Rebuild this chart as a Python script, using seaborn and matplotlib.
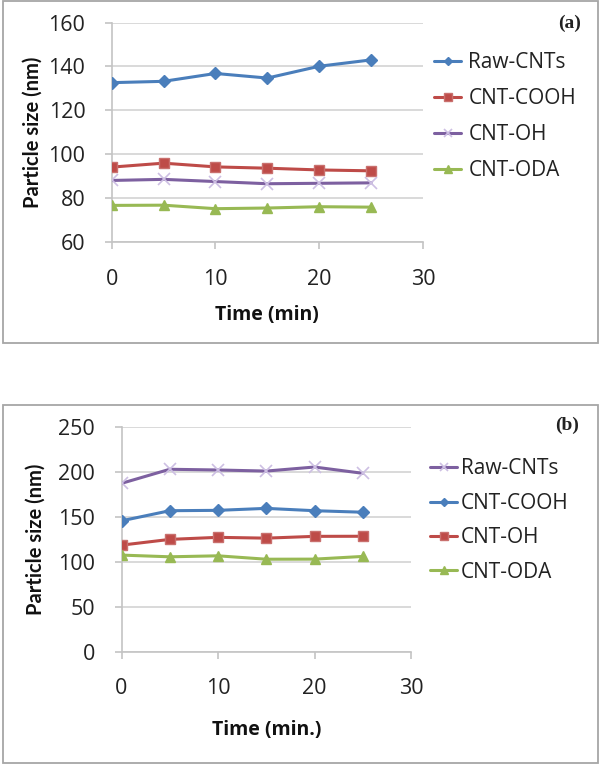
import matplotlib
matplotlib.use("Agg")
import matplotlib.pyplot as plt
import seaborn as sns
import pandas as pd
from matplotlib.patches import Rectangle

# ---------------- data ----------------
time_min = [0, 5, 10, 15, 20, 25]

a_raw = [132.6, 133.2, 136.8, 134.7, 140.1, 143.0]
a_cooh = [94.0, 95.8, 94.1, 93.5, 92.7, 92.3]
a_oh = [87.9, 88.4, 87.4, 86.4, 86.6, 86.8]
a_oda = [76.5, 76.6, 75.0, 75.3, 75.9, 75.7]

b_raw = [187.5, 203.2, 202.4, 201.2, 205.7, 198.7]
b_cooh = [145.7, 157.0, 157.4, 159.6, 157.0, 155.3]
b_oh = [118.6, 125.0, 127.3, 126.4, 128.4, 128.5]
b_oda = [107.5, 105.6, 106.7, 102.9, 103.0, 106.0]

labels = ["Raw-CNTs", "CNT-COOH", "CNT-OH", "CNT-ODA"]
a_yticks = [60, 80, 100, 120, 140, 160]
b_yticks = [0, 50, 100, 150, 200, 250]
xticks = [0, 10, 20, 30]

# ---------------- style ----------------
sns.set_theme(style="white")
plt.rcParams["font.family"] = ["Open Sans", "DejaVu Sans"]

BLUE = "#4a7ebb"
RED = "#be4b48"
PURPLE = "#7d60a0"
GREEN = "#98b954"
GRID = "#d9d9d9"
AXC = "#c4c4c4"
TXT = "#222222"

styles = {
    "blue": dict(color=BLUE, marker="D", ms=6, mfc=BLUE, mec=BLUE, mew=1),
    "red": dict(color=RED, marker="s", ms=7.5, mfc=RED, mec="#c9706e", mew=1),
    "purple": dict(color=PURPLE, marker="x", ms=8, mfc="#cdbfe3", mec="#cdbfe3", mew=1.2),
    "green": dict(color=GREEN, marker="^", ms=7.5, mfc=GREEN, mec=GREEN, mew=1),
}

fig = plt.figure(figsize=(6, 7.65), dpi=100)
W, H = 600.0, 765.0

def fx(px):
    return px / W

def fy(py):
    return 1 - py / H

# panel frames
for top, bot in [(1, 343), (405, 763)]:
    fig.patches.append(Rectangle((fx(3), fy(bot)), fx(595), (bot - top) / H,
                                 transform=fig.transFigure, fill=False,
                                 edgecolor="#a6a6a6", lw=1.3))

def make_panel(ax_rect, series, colors, yticks, xlabel, tag, tag_xy,
               leg_xy, leg_spacing, leg_tpad, ylab_x, xtick_pad):
    ax = fig.add_axes(ax_rect)
    for vals, lab, c in zip(series, labels, colors):
        st = styles[c]
        df = pd.DataFrame({"Time": time_min, "Size": vals})
        sns.lineplot(data=df, x="Time", y="Size", ax=ax, color=st["color"],
                     marker=st["marker"], markersize=st["ms"],
                     markerfacecolor=st["mfc"], markeredgecolor=st["mec"],
                     markeredgewidth=st["mew"], linewidth=2.2, label=lab,
                     zorder=3)
    ax.set_xlim(0, 30)
    ax.set_ylim(yticks[0], yticks[-1])
    ax.set_xticks(xticks)
    ax.set_yticks(yticks)
    ax.yaxis.grid(True, color=GRID, lw=1.4)
    ax.xaxis.grid(False)
    for s in ["top", "right"]:
        ax.spines[s].set_visible(False)
    for s in ["left", "bottom"]:
        ax.spines[s].set_color(AXC)
        ax.spines[s].set_linewidth(1.2)
    ax.tick_params(axis="y", which="both", direction="out", length=5,
                   width=1.2, color=AXC, labelsize=15.5, labelcolor=TXT, pad=14, left=True)
    ax.tick_params(axis="x", which="both", direction="out", length=5,
                   width=1.2, color=AXC, labelsize=15.5, labelcolor=TXT,
                   pad=xtick_pad, bottom=True)
    ax.set_xlabel(xlabel, fontsize=14, fontweight="bold", color="#111111")
    ax.set_ylabel("Particle size (nm)", fontsize=14.5, fontweight="bold",
                  color="#111111", family=["Lato", "DejaVu Sans"])
    ax.yaxis.set_label_coords(ylab_x, 0.5)
    ax.yaxis.label.set_va("center")
    ax.set_facecolor("none")
    leg = ax.legend(loc="upper left", bbox_to_anchor=leg_xy,
                    bbox_transform=fig.transFigure, frameon=False,
                    fontsize=15, borderpad=0, borderaxespad=0,
                    handlelength=1.3, handletextpad=leg_tpad,
                    labelspacing=leg_spacing, markerscale=0.7)
    for t in leg.get_texts():
        t.set_color(TXT)
    fig.text(fx(tag_xy[0]), fy(tag_xy[1]), tag, ha="center", va="center",
             fontsize=14, fontweight="bold",
             family=["Liberation Serif", "DejaVu Serif"], color="#222222")
    return ax

# panel (a)
ax_a = make_panel([fx(111.7), fy(241.5), fx(423 - 111.7), (241.5 - 22.7) / H],
                  [a_raw, a_cooh, a_oh, a_oda],
                  ["blue", "red", "purple", "green"],
                  a_yticks, "Time (min)", "(a)", (570, 23),
                  (fx(434), fy(52.5)), 0.71, 0.35, (33 - 111.7) / (423 - 111.7), 15)
ax_a.xaxis.set_label_coords(0.5, (241.5 - 315) / (241.5 - 22.7))
ax_a.xaxis.label.set_va("center")

# panel (b)
ax_b = make_panel([fx(121.5), fy(651.5), fx(411 - 121.5), (651.5 - 427.3) / H],
                  [b_raw, b_cooh, b_oh, b_oda],
                  ["purple", "blue", "red", "green"],
                  b_yticks, "Time (min.)", "(b)", (567, 425),
                  (fx(430), fy(458.5)), 0.64, 0.2, (36 - 121.5) / (411 - 121.5), 14)
ax_b.xaxis.set_label_coords(0.5, (651.5 - 730) / (651.5 - 427.3))
ax_b.xaxis.label.set_va("center")

fig.savefig("out.png", dpi=100, facecolor="white")
